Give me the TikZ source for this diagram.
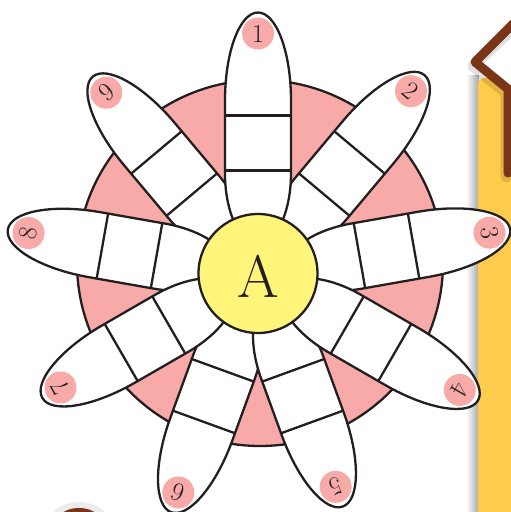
\documentclass[tikz,border=0pt]{standalone}
\usetikzlibrary{calc}

\definecolor{petalpink}{RGB}{247,170,167}
\definecolor{heartyellow}{RGB}{255,245,122}
\definecolor{stripyellow}{RGB}{255,203,76}
\definecolor{barkbrown}{RGB}{122,52,23}
\definecolor{inkline}{RGB}{35,31,32}

\begin{document}
\begin{tikzpicture}[x=1pt, y=1pt, line width=2.3pt,
    outline/.style={draw=inkline, line join=round},
    petalshape/.style={outline, fill=white},
    tipmark/.style={circle, fill=petalpink, minimum size=32pt, inner sep=0pt, text=inkline, font=\fontsize{26}{26}\selectfont}]
    \useasboundingbox (0,0) rectangle (511,512);

    % strip on the right
    \shade[left color=white, right color=black!35] (466,0) rectangle (479,436);
    \fill[stripyellow, rounded corners=6pt] (478,-10) rectangle (520,434);

    \fill[white] (475,450) -- (516,491) -- (545,460) -- (508,422) -- cycle;
    \draw[black, opacity=0.12, line width=11pt, line join=round, line cap=round] (518,488) -- (473,446) -- (506,419) -- (506,335);
    \draw[barkbrown, line width=9pt, line join=round, line cap=round] (520,495) -- (475,450) -- (508,423) -- (508,339);

    \fill[black, opacity=0.08] (79,-23) ellipse [x radius=36, y radius=33];
    \fill[barkbrown] (79,-23) ellipse [x radius=30, y radius=27];

    % pink disc
    \filldraw[outline, fill=petalpink] (260,249) circle (183);

    \coordinate (hub) at (258,238.5);
    \foreach \ang/\len/\num in {50/259/2, -110/254/6, 130/257/9, 10/256/3, -70/248/5, 170/254/8, 90/261/1, -30/254/4, -150/249/7} {
        \begin{scope}[shift={(hub)}, rotate=\ang]
            \filldraw[petalshape] (30,0) arc[start angle=180, end angle=90, x radius=70, y radius=33]
                -- (\len-88,33) arc[start angle=90, end angle=-90, x radius=88, y radius=33]
                -- (100,-33) arc[start angle=-90, end angle=-180, x radius=70, y radius=33] -- cycle;
            \draw[outline] (103,-33) -- (103,33) (158,-33) -- (158,33);
            \node[tipmark, rotate=\ang-90] (tip\num) at (\len-21,0) {\num};
        \end{scope}
    }

    \node[circle, outline, fill=heartyellow, minimum size=119pt, inner sep=0pt] (heart) at (hub) {};
    \node[text=inkline, font=\fontsize{60}{60}\selectfont] (letterA) at ($(hub)+(0,-3)$) {A};
\end{tikzpicture}
\end{document}
